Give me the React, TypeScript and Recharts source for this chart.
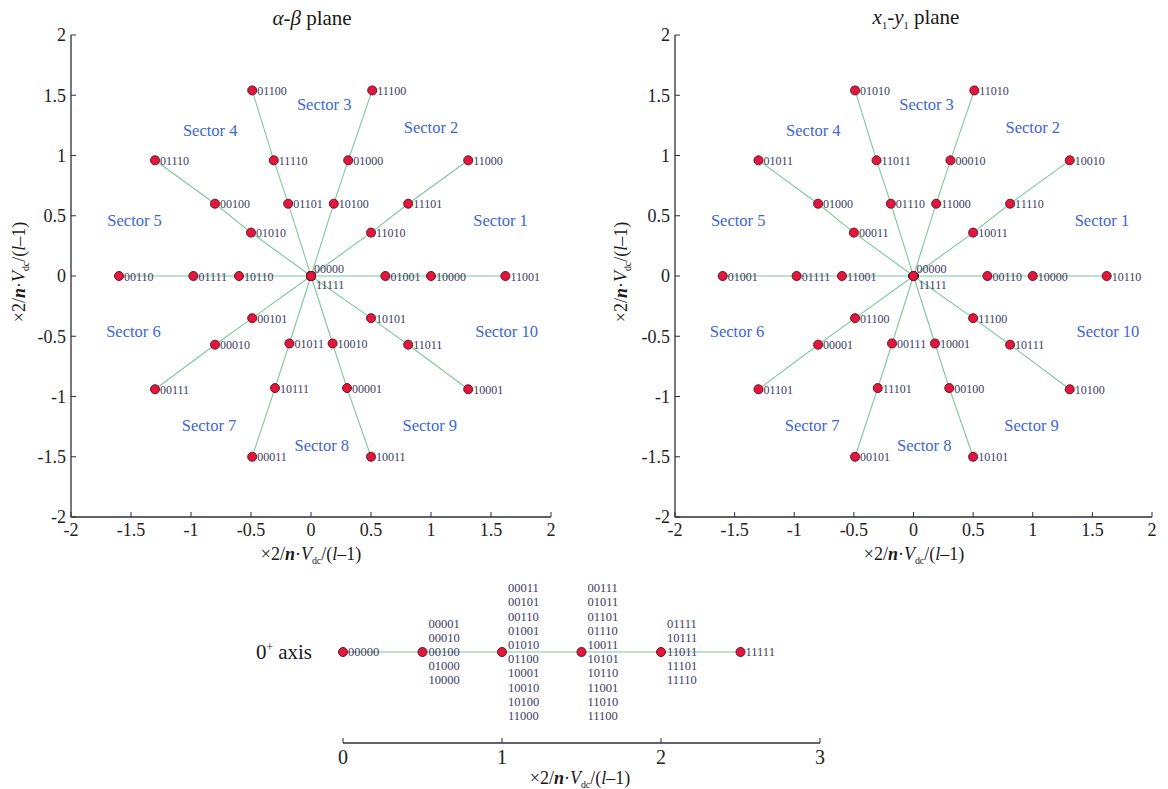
import { ScatterChart, Scatter, XAxis, YAxis } from 'recharts'

// ray geometry: 10 rays at 36 deg steps, three vectors each (short, medium, long)
const rayX = [
  [0.62, 1.0, 1.62],
  [0.5, 0.81, 1.31],
  [0.19, 0.31, 0.51],
  [-0.19, -0.31, -0.49],
  [-0.5, -0.8, -1.3],
  [-0.6, -0.98, -1.6],
  [-0.49, -0.8, -1.3],
  [-0.18, -0.3, -0.49],
  [0.18, 0.3, 0.5],
  [0.5, 0.81, 1.31],
]
const rayY = [
  [0, 0, 0],
  [0.36, 0.6, 0.96],
  [0.6, 0.96, 1.54],
  [0.6, 0.96, 1.54],
  [0.36, 0.6, 0.96],
  [0, 0, 0],
  [-0.35, -0.57, -0.94],
  [-0.56, -0.93, -1.5],
  [-0.56, -0.93, -1.5],
  [-0.35, -0.57, -0.94],
]

const abCodes = [
  ['01001', '10000', '11001'],
  ['11010', '11101', '11000'],
  ['10100', '01000', '11100'],
  ['01101', '11110', '01100'],
  ['01010', '00100', '01110'],
  ['10110', '01111', '00110'],
  ['00101', '00010', '00111'],
  ['01011', '10111', '00011'],
  ['10010', '00001', '10011'],
  ['10101', '11011', '10001'],
]
const xyCodes = [
  ['00110', '10000', '10110'],
  ['10011', '11110', '10010'],
  ['11000', '00010', '11010'],
  ['01110', '11011', '01010'],
  ['00011', '01000', '01011'],
  ['11001', '01111', '01001'],
  ['01100', '00001', '01101'],
  ['00111', '11101', '00101'],
  ['10001', '00100', '10101'],
  ['11100', '10111', '10100'],
]
const originCodes = ['00000', '11111']

const sectorNames = ['Sector 1', 'Sector 2', 'Sector 3', 'Sector 4', 'Sector 5', 'Sector 6', 'Sector 7', 'Sector 8', 'Sector 9', 'Sector 10']
const sectorX = [1.58, 1.0, 0.11, -0.84, -1.47, -1.48, -0.85, 0.09, 0.99, 1.63]
const sectorY = [0.46, 1.23, 1.42, 1.21, 0.46, -0.46, -1.24, -1.41, -1.24, -0.46]

const planeTicks = [-2, -1.5, -1, -0.5, 0, 0.5, 1, 1.5, 2]

// zero-sequence (0+) axis
const zeroPos = [0, 0.5, 1, 1.5, 2, 2.5]
const zeroCodes = [
  ['00000'],
  ['00001', '00010', '00100', '01000', '10000'],
  ['00011', '00101', '00110', '01001', '01010', '01100', '10001', '10010', '10100', '11000'],
  ['00111', '01011', '01101', '01110', '10011', '10101', '10110', '11001', '11010', '11100'],
  ['01111', '10111', '11011', '11101', '11110'],
  ['11111'],
]
const zeroTicks = [0, 1, 2, 3]

const SERIF = 'Liberation Serif, Tinos, DejaVu Serif, serif'
const RED = '#e3173e'
const DOT_STROKE = '#6b1226'
const GREEN = '#7cc89c'
const CODE_COLOR = '#3b3b5e'
const AXIS = '#2e2e3e'

const PointShape = (props: any) => {
  const { cx, cy, payload } = props
  return (
    <g>
      <circle cx={cx} cy={cy} r={4.5} fill={RED} stroke={DOT_STROKE} strokeWidth={1} />
      {payload.code ? (
        <text x={cx + 5} y={cy + 4.5} fontSize={12} fill={CODE_COLOR} fontFamily={SERIF}>
          {payload.code}
        </text>
      ) : null}
    </g>
  )
}

const OriginShape = (props: any) => {
  const { cx, cy, payload } = props
  return (
    <g>
      <circle cx={cx} cy={cy} r={4.5} fill={RED} stroke={DOT_STROKE} strokeWidth={1} />
      <text x={cx + 3} y={cy - 3} fontSize={12} fill={CODE_COLOR} fontFamily={SERIF}>
        {payload.codes[0]}
      </text>
      <text x={cx + 5} y={cy + 13} fontSize={12} fill={CODE_COLOR} fontFamily={SERIF}>
        {payload.codes[1]}
      </text>
    </g>
  )
}

const SectorShape = (props: any) => {
  const { cx, cy, payload } = props
  return (
    <text x={cx} y={cy} textAnchor="middle" dominantBaseline="central" fontSize={16.5} fill="#3d66d6" fontFamily={SERIF}>
      {payload.name}
    </text>
  )
}

const StackShape = (props: any) => {
  const { cx, cy, payload } = props
  const n = payload.codes.length
  const single = n === 1
  return (
    <g>
      <circle cx={cx} cy={cy} r={4.5} fill={RED} stroke={DOT_STROKE} strokeWidth={1} />
      {payload.codes.map((c: string, i: number) => (
        <text
          key={c}
          x={cx + (single ? 5 : 6)}
          y={cy + (i - (n - 1) / 2) * 14.2}
          dominantBaseline="central"
          fontSize={12.5}
          fill={CODE_COLOR}
          fontFamily={SERIF}
        >
          {c}
        </text>
      ))}
    </g>
  )
}

const tickStyle = { fill: '#222', fontSize: 18, fontFamily: SERIF }

function Plane({ codes, left, width, right }: { codes: string[][]; left: number; width: number; right: number }) {
  const rays = rayX.map((xs, r) => [
    { x: 0, y: 0, code: '' },
    ...xs.map((x, i) => ({ x, y: rayY[r][i], code: codes[r][i] })),
  ])
  const sectors = sectorNames.map((name, i) => ({ x: sectorX[i], y: sectorY[i], name }))
  const origin = [{ x: 0, y: 0, codes: originCodes }]
  return (
    <div style={{ position: 'absolute', left, top: 0 }}>
      <ScatterChart width={width} height={570} margin={{ top: 35, right, bottom: 23, left: 21 }}>
        <XAxis
          type="number"
          dataKey="x"
          domain={[-2, 2]}
          ticks={planeTicks}
          interval={0}
          height={30}
          axisLine={{ stroke: AXIS, strokeWidth: 1.3 }}
          tickLine={{ stroke: AXIS }}
          tickSize={-5}
          tickMargin={11}
          tick={tickStyle}
          allowDataOverflow
        />
        <YAxis
          type="number"
          dataKey="y"
          domain={[-2, 2]}
          ticks={planeTicks}
          interval={0}
          width={50}
          axisLine={{ stroke: AXIS, strokeWidth: 1.3 }}
          tickLine={{ stroke: AXIS }}
          tickSize={-5}
          tickMargin={10}
          tick={tickStyle}
          allowDataOverflow
        />
        <Scatter data={sectors} shape={SectorShape} isAnimationActive={false} />
        {rays.map((d, r) => (
          <Scatter
            key={r}
            data={d}
            line={{ stroke: GREEN, strokeWidth: 1.1 }}
            lineType="joint"
            shape={PointShape}
            isAnimationActive={false}
          />
        ))}
        <Scatter data={origin} shape={OriginShape} isAnimationActive={false} />
      </ScatterChart>
    </div>
  )
}

const AxisText = () => (
  <span>
    ×2/<i><b>n</b></i>·<i>V</i>
    <sub style={{ fontSize: '0.55em' }}>dc</sub>/(<i>l</i>–1)
  </span>
)

const abs = (x: number, y: number, extra: any = {}) => ({
  position: 'absolute' as const,
  left: x,
  top: y,
  transform: 'translate(-50%, -50%)',
  whiteSpace: 'nowrap' as const,
  color: '#1a1a1a',
  ...extra,
})

export default function App() {
  const zeroData = zeroPos.map((x, i) => ({ x, y: 0, codes: zeroCodes[i] }))
  return (
    <div
      style={{
        position: 'fixed',
        left: 0,
        top: 0,
        width: 1168,
        height: 789,
        background: '#fff',
        fontFamily: SERIF,
        overflow: 'hidden',
      }}
    >
      <Plane codes={abCodes} left={0} width={580} right={29} />
      <Plane codes={xyCodes} left={604} width={564} right={16} />

      <div style={abs(312, 18, { fontSize: 21 })}>
        <i>α</i>-<i>β</i> plane
      </div>
      <div style={abs(916, 18, { fontSize: 21 })}>
        <i>x</i>
        <sub style={{ fontSize: '0.5em' }}>1</sub>-<i>y</i>
        <sub style={{ fontSize: '0.5em' }}>1</sub> plane
      </div>

      <div style={abs(311, 555, { fontSize: 18 })}>
        <AxisText />
      </div>
      <div style={abs(914, 555, { fontSize: 18 })}>
        <AxisText />
      </div>
      <div style={abs(20, 272, { fontSize: 18, transform: 'translate(-50%, -50%) rotate(-90deg)' })}>
        <AxisText />
      </div>
      <div style={abs(622, 272, { fontSize: 18, transform: 'translate(-50%, -50%) rotate(-90deg)' })}>
        <AxisText />
      </div>

      <div style={abs(284, 652, { fontSize: 21 })}>
        0<sup style={{ fontSize: '0.55em' }}>+</sup> axis
      </div>

      <div style={{ position: 'absolute', left: 250, top: 550 }}>
        <ScatterChart width={600} height={239} margin={{ top: 11, right: 30, bottom: 16, left: 93 }}>
          <XAxis
            type="number"
            dataKey="x"
            domain={[0, 3]}
            ticks={zeroTicks}
            interval={0}
            height={30}
            axisLine={{ stroke: AXIS, strokeWidth: 1.3 }}
            tickLine={{ stroke: AXIS }}
            tickSize={-5}
            tickMargin={12}
            tick={{ fill: '#222', fontSize: 20, fontFamily: SERIF }}
          />
          <YAxis type="number" dataKey="y" domain={[-1, 1]} hide />
          <Scatter
            data={zeroData}
            line={{ stroke: GREEN, strokeWidth: 1.1 }}
            lineType="joint"
            shape={StackShape}
            isAnimationActive={false}
          />
        </ScatterChart>
      </div>
      <div style={abs(580, 779, { fontSize: 18 })}>
        <AxisText />
      </div>
    </div>
  )
}
